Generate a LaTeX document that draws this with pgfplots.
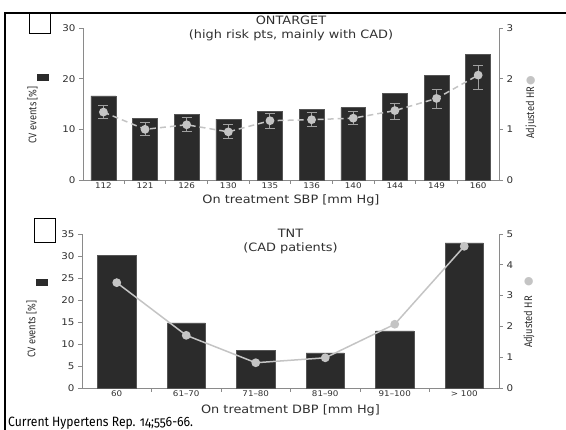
\documentclass[border=0pt]{standalone}
\usepackage{pgfplots}
\pgfplotsset{compat=1.18}
\usepackage{fontspec}
\setmainfont{DejaVu Sans}[FakeStretch=1.12]
\newfontfamily\cond[FakeStretch=0.85]{Fira Sans}
\newfontfamily\capfont[FakeStretch=0.9,Numbers=OldStyle]{Fira Sans}
\newfontfamily\dejavu{DejaVu Sans}
\definecolor{axgray}{HTML}{8A8A8A}
\definecolor{barblk}{HTML}{2B2B2B}
\definecolor{bardraw}{HTML}{555555}
\definecolor{hrgray}{HTML}{C4C4C4}
\definecolor{errgray}{HTML}{A0A0A0}
\definecolor{txt}{HTML}{303030}
\pgfplotsset{
  base/.style={
    scale only axis, anchor=south west,
    /pgf/number format/assume math mode=true,
    tick align=outside, major tick length=4pt,
    tick style={draw=axgray, line width=0.9pt},
    axis line style={draw=axgray, line width=0.9pt},
    tick label style={font=\fontsize{9.2}{11}\selectfont, text=txt},
    every axis y label/.style={font=\cond\fontsize{11}{12}\selectfont, text=txt},
    clip=false,
  },
}
\begin{document}
\begin{tikzpicture}[x=1pt,y=1pt]
\useasboundingbox (0,0) rectangle (566,430);
% ---------- top panel: bars ----------
\begin{axis}[base,
  at={(83pt,250pt)}, width=416pt, height=152pt,
  xmin=-0.49, xmax=9.5, ymin=0, ymax=30,
  axis y line*=left, axis x line*=bottom,
  ytick={0,10,20,30},
  xtick={0.5,1.5,...,8.5}, xticklabels={},
  extra x ticks={0,1,2,3,4,5,6,7,8,9},
  extra x tick labels={112,121,126,130,135,136,140,144,149,160},
  extra x tick style={major tick length=0pt},
  xticklabel style={font=\fontsize{7.8}{9}\selectfont, yshift=1pt},
  every axis y label/.style={at={(axis description cs:0,0.428)}, xshift=-50.5pt, rotate=90, anchor=center,
     font=\cond\fontsize{11}{12}\selectfont, text=txt},
  ylabel={CV events [\%]\rlap{\hspace{5pt}\smash{\raisebox{-13pt}{\textcolor{barblk}{\rule{7pt}{12.6pt}}}}}},
  xlabel={On treatment SBP [mm Hg]},
  every axis x label/.style={at={(axis description cs:0.5,0)}, yshift=-20pt, anchor=center,
     font=\fontsize{11.5}{12}\selectfont, text=txt},
  title={ONTARGET\\(high risk pts, mainly with CAD)},
  every axis title/.style={at={(axis description cs:0.5,1)}, yshift=0pt, anchor=center, align=center,
     font=\fontsize{11.5}{14}\selectfont, text=txt},
]
\addplot[ybar, bar width=0.6, fill=barblk, draw=bardraw, line width=0.5pt] coordinates {
 (0,16.6) (1,12.2) (2,13.0) (3,12.0) (4,13.5) (5,14.0) (6,14.3) (7,17.1) (8,20.7) (9,24.8)};
\end{axis}
% ---------- top panel: HR ----------
\begin{axis}[base,
  at={(83pt,250pt)}, width=416pt, height=152pt,
  xmin=-0.49, xmax=9.5, ymin=0, ymax=3,
  axis y line*=right, axis x line=none,
  ytick={0,1,2,3},
  every axis y label/.style={at={(axis description cs:1,0.444)}, xshift=32pt, rotate=90, anchor=center,
     font=\cond\fontsize{11}{12}\selectfont, text=txt},
  ylabel={Adjusted HR\rlap{\hspace{1.5pt}\smash{\raisebox{0.5pt}{\textcolor{hrgray}{\dejavu\fontsize{11}{11}\selectfont ●}}}}},
]
\addplot[color=hrgray, line width=1.5pt, dash pattern=on 6pt off 4pt,
  mark=*, mark size=3.6pt, mark options={solid, fill=hrgray, draw=hrgray},
  error bars/.cd, y dir=both, y explicit,
  error bar style={draw=errgray, line width=1pt, solid},
  error mark options={rotate=90, mark size=5pt, draw=errgray, line width=1pt, solid}]
 coordinates {
 (0,1.34) += (0,0.14) -= (0,0.13)
 (1,1.00) += (0,0.13) -= (0,0.13)
 (2,1.09) += (0,0.15) -= (0,0.13)
 (3,0.95) += (0,0.15) -= (0,0.13)
 (4,1.17) += (0,0.14) -= (0,0.15)
 (5,1.19) += (0,0.14) -= (0,0.13)
 (6,1.22) += (0,0.13) -= (0,0.13)
 (7,1.37) += (0,0.13) -= (0,0.17)
 (8,1.61) += (0,0.18) -= (0,0.19)
 (9,2.07) += (0,0.19) -= (0,0.29)};
\end{axis}
% ---------- bottom panel: bars ----------
\begin{axis}[base,
  at={(82pt,42pt)}, width=417pt, height=154pt,
  xmin=-0.5, xmax=5.5, ymin=0, ymax=35,
  axis y line*=left, axis x line*=bottom,
  ytick={0,5,...,35},
  xtick={0.5,1.5,...,4.5}, xticklabels={},
  extra x ticks={0,1,2,3,4,5},
  extra x tick labels={60,61–70,71–80,81–90,91–100,> 100},
  extra x tick style={major tick length=0pt},
  xticklabel style={font=\fontsize{7.8}{9}\selectfont, yshift=1pt},
  every axis y label/.style={at={(axis description cs:0,0.382)}, xshift=-50.5pt, rotate=90, anchor=center,
     font=\cond\fontsize{11}{12}\selectfont, text=txt},
  ylabel={CV events [\%]\rlap{\hspace{15pt}\smash{\raisebox{-13pt}{\textcolor{barblk}{\rule{7pt}{12.6pt}}}}}},
  xlabel={On treatment DBP [mm Hg]},
  every axis x label/.style={at={(axis description cs:0.5,0)}, yshift=-22pt, anchor=center,
     font=\fontsize{11.5}{12}\selectfont, text=txt},
  title={TNT\\(CAD patients)},
  every axis title/.style={at={(axis description cs:0.5,1)}, yshift=-8pt, anchor=center, align=center,
     font=\fontsize{11.5}{14}\selectfont, text=txt},
]
\addplot[ybar, bar width=0.55, fill=barblk, draw=bardraw, line width=0.5pt] coordinates {
 (0,30.2) (1,14.8) (2,8.6) (3,8.0) (4,13.0) (5,33.0)};
\end{axis}
% ---------- bottom panel: HR ----------
\begin{axis}[base,
  at={(82pt,42pt)}, width=417pt, height=154pt,
  xmin=-0.5, xmax=5.5, ymin=0, ymax=5,
  axis y line*=right, axis x line=none,
  ytick={0,1,...,5},
  every axis y label/.style={at={(axis description cs:1,0.428)}, xshift=30pt, rotate=90, anchor=center,
     font=\cond\fontsize{11}{12}\selectfont, text=txt},
  ylabel={Adjusted HR\rlap{\hspace{10pt}\smash{\raisebox{0.5pt}{\textcolor{hrgray}{\dejavu\fontsize{11}{11}\selectfont ●}}}}},
]
\addplot[color=hrgray, line width=1.5pt, mark=*, mark size=3.6pt,
  mark options={fill=hrgray, draw=hrgray}] coordinates {
 (0,3.42) (1,1.71) (2,0.82) (3,0.98) (4,2.07) (5,4.60)};
\end{axis}
% ---------- frame, boxes, caption ----------
\draw[line width=2pt] (5,0) -- (5,417) -- (566,417);
\draw[line width=0.8pt] (29,397) rectangle (50,417);
\draw[line width=0.8pt] (34,188) rectangle (55,212);
\node[anchor=west, font=\capfont\fontsize{13.5}{15}\selectfont, inner sep=0pt] at (8,6.5) {Current Hypertens Rep. 14;556-66.};
\end{tikzpicture}
\end{document}
